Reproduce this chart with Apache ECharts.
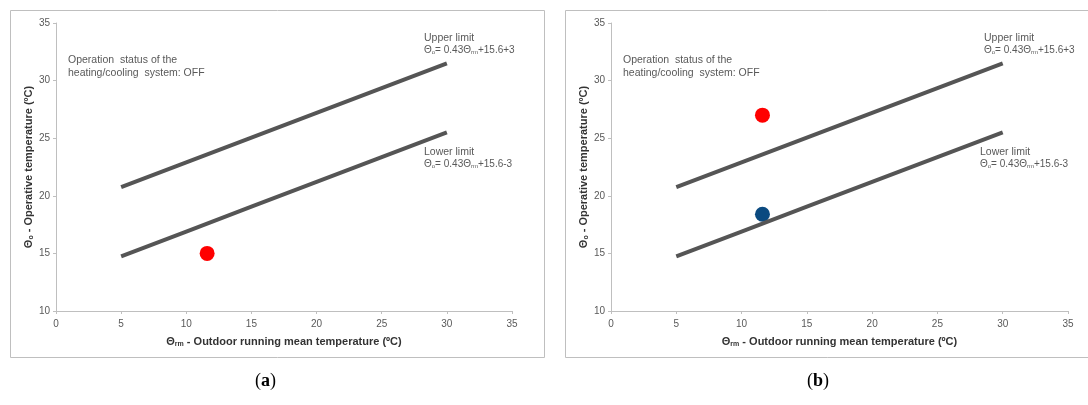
<!DOCTYPE html>
<html><head><meta charset="utf-8">
<script src="https://cdn.jsdelivr.net/npm/echarts@6/dist/echarts.min.js"></script>
<style>html,body{margin:0;padding:0;background:#fff}#c{width:1088px;height:405px}</style>
</head><body><div id="c"></div>
<script>
const limitX = [5, 10, 15, 20, 25, 30];
const upperLimit = [20.75, 22.9, 25.05, 27.2, 29.35, 31.5];
const lowerLimit = [14.75, 16.9, 19.05, 21.2, 23.35, 25.5];
const pointsA = [[11.6, 15.0]];
const pointsBRed = [[11.6, 27.0]];
const pointsBBlue = [[11.6, 18.4]];
const xTicks = [0, 5, 10, 15, 20, 25, 30, 35];
const yTicks = [10, 15, 20, 25, 30, 35];

const chart = echarts.init(document.getElementById('c'));
const tickCol = '#595959';
const font = 'Liberation Sans';
const sub = {b:{fontWeight:'bold',fontSize:11,color:'#333',fontFamily:font}, s:{fontWeight:'bold',fontSize:7,color:'#333',fontFamily:font,verticalAlign:'bottom',padding:[6,0,0,0]}};
function xAxis(i){return {gridIndex:i,type:'value',min:0,max:35,interval:5,
  axisLine:{lineStyle:{color:'#bfbfbf'}},axisTick:{show:true,length:3,lineStyle:{color:'#bfbfbf'}},
  splitLine:{show:false},axisLabel:{color:tickCol,fontSize:10,fontFamily:font,margin:8},
  name:'{b|Θ}{s|rm}{b| - Outdoor running mean temperature (ºC)}',nameLocation:'middle',nameGap:24,
  nameTextStyle:{rich:sub}};}
function yAxis(i){return {gridIndex:i,type:'value',min:10,max:35,interval:5,
  axisLine:{show:true,lineStyle:{color:'#bfbfbf'}},axisTick:{show:true,length:3,lineStyle:{color:'#bfbfbf'}},
  splitLine:{show:false},axisLabel:{color:tickCol,fontSize:10,fontFamily:font,margin:6},
  name:'{b|Θ}{s|o}{b| - Operative temperature (ºC)}',nameLocation:'middle',nameGap:20,
  nameTextStyle:{rich:sub}};}
function lineSeries(i, vals){return {type:'line',xAxisIndex:i,yAxisIndex:i,data:limitX.map((x,k)=>[x,vals[k]]),
  showSymbol:false,lineStyle:{color:'#555555',width:4},silent:true};}
function scat(i,data,color){return {type:'scatter',xAxisIndex:i,yAxisIndex:i,data:data,symbolSize:15,itemStyle:{color:color,opacity:1}};}

const formRich = {n:{fontSize:10,fontFamily:font,color:'#595959'}, s:{fontSize:6,fontFamily:font,color:'#595959',verticalAlign:'bottom',padding:[5,0,0,0]}};
function ann(x,y,text){return {type:'text',left:x,top:y,style:{text:text,fill:'#595959',font:'10.5px "Liberation Sans"',lineHeight:13}};}
function formula(x,y,sign){return {type:'text',left:x,top:y,style:{text:'{n|Θ}{s|o}{n|= 0.43Θ}{s|rm}{n|+15.6'+sign+'3}',rich:formRich,fill:'#595959'}};}

chart.setOption({
  animation:false,
  grid:[{left:56,top:23,width:456,height:288},{left:611,top:23,width:457,height:288}],
  xAxis:[xAxis(0),xAxis(1)],
  yAxis:[yAxis(0),yAxis(1)],
  series:[lineSeries(0,upperLimit),lineSeries(0,lowerLimit),scat(0,pointsA,'#ff0000'),
          lineSeries(1,upperLimit),lineSeries(1,lowerLimit),scat(1,pointsBRed,'#ff0000'),scat(1,pointsBBlue,'#0b4a80')],
  graphic:[
    {type:'rect',shape:{x:10.5,y:10.5,width:534,height:347},style:{fill:null,stroke:'#bfbfbf',lineWidth:1},z:-1},
    {type:'rect',shape:{x:565.5,y:10.5,width:540,height:347},style:{fill:null,stroke:'#bfbfbf',lineWidth:1},z:-1},
    ann(68,54,'Operation  status of the\nheating/cooling  system: OFF'),
    ann(623,54,'Operation  status of the\nheating/cooling  system: OFF'),
    ann(424,32,'Upper limit'), formula(424,45,'+'),
    ann(424,146,'Lower limit'), formula(424,159,'-'),
    ann(984,32,'Upper limit'), formula(984,45,'+'),
    ann(980,146,'Lower limit'), formula(980,159,'-'),
    {type:'text',left:255,top:372,style:{text:'({b|a})',font:'18px "Liberation Serif"',fill:'#000',rich:{b:{fontWeight:'bold',fontSize:18,fontFamily:'Liberation Serif',color:'#000'}}}},
    {type:'text',left:807,top:372,style:{text:'({b|b})',font:'18px "Liberation Serif"',fill:'#000',rich:{b:{fontWeight:'bold',fontSize:18,fontFamily:'Liberation Serif',color:'#000'}}}}
  ]
});
</script></body></html>
